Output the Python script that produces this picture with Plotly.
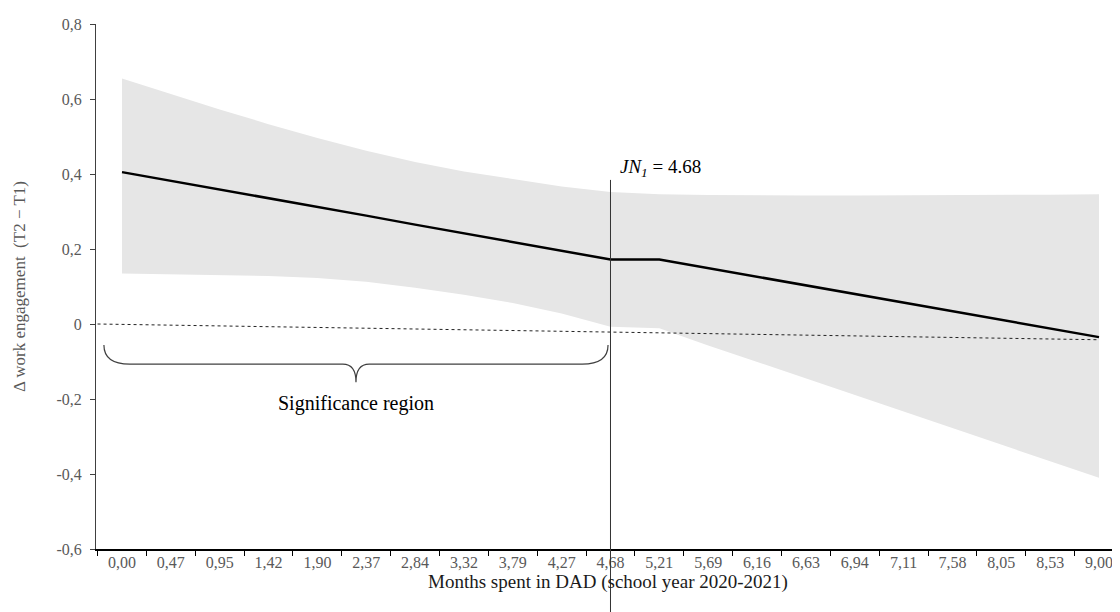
import plotly.graph_objects as go

# ---- data ----
x_labels = ["0,00", "0,47", "0,95", "1,42", "1,90", "2,37", "2,84", "3,32", "3,79", "4,27",
            "4,68", "5,21", "5,69", "6,16", "6,63", "6,94", "7,11", "7,58", "8,05", "8,53", "9,00"]
effect = [0.405, 0.382, 0.358, 0.335, 0.312, 0.289, 0.265, 0.242, 0.219, 0.195, 0.172,
          0.172, 0.149, 0.126, 0.103, 0.080, 0.057, 0.034, 0.011, -0.012, -0.035]
upper_ci = [0.655, 0.613, 0.572, 0.533, 0.496, 0.462, 0.432, 0.407, 0.386, 0.367, 0.352,
            0.346, 0.344, 0.343, 0.343, 0.343, 0.343, 0.344, 0.344, 0.345, 0.346]
lower_ci = [0.135, 0.133, 0.131, 0.128, 0.123, 0.113, 0.097, 0.078, 0.056, 0.028, -0.007,
            -0.011, -0.057, -0.101, -0.145, -0.189, -0.233, -0.278, -0.322, -0.366, -0.41]
zero_ref_x = [-0.5, 20]
zero_ref_y = [0.0, -0.042]
y_ticks = [-0.6, -0.4, -0.2, 0, 0.2, 0.4, 0.6, 0.8]
y_ticktext = ["-0,6", "-0,4", "-0,2", "0", "0,2", "0,4", "0,6", "0,8"]
jn_index = 10          # position of JN1 = 4.68 among categories
brace_mid = 4.79

x_idx = list(range(len(x_labels)))
FONT = "Liberation Serif, DejaVu Serif, Times, serif"
GRAY = "#595959"

fig = go.Figure()
fig.add_trace(go.Scatter(x=x_idx, y=lower_ci, mode="lines", line=dict(width=0),
                         hoverinfo="skip", showlegend=False))
fig.add_trace(go.Scatter(x=x_idx, y=upper_ci, mode="lines", line=dict(width=0),
                         fill="tonexty", fillcolor="#e6e6e6", hoverinfo="skip", showlegend=False))
fig.add_trace(go.Scatter(x=zero_ref_x, y=zero_ref_y, mode="lines",
                         line=dict(color="#222222", width=1, dash="dot"), showlegend=False))
fig.add_trace(go.Scatter(x=x_idx, y=effect, mode="lines",
                         line=dict(color="black", width=2.5), showlegend=False))

# JN vertical line
fig.add_shape(type="line", xref="x", yref="paper", x0=jn_index, x1=jn_index,
              y0=-0.125, y1=0.703, line=dict(color="#333333", width=1))

# brace
x0b, x1b = -0.37, 9.95
yt, yh, ytip = -0.056, -0.107, -0.155
cw, mw = 0.53, 0.27
path = (f"M {x0b},{yt} Q {x0b},{yh} {x0b+cw},{yh} L {brace_mid-mw},{yh} "
        f"Q {brace_mid},{yh} {brace_mid},{ytip} Q {brace_mid},{yh} {brace_mid+mw},{yh} "
        f"L {x1b-cw},{yh} Q {x1b},{yh} {x1b},{yt}")
fig.add_shape(type="path", xref="x", yref="y", path=path,
              line=dict(color="#404040", width=1.2))

fig.add_annotation(x=brace_mid, y=-0.211, text="Significance region", showarrow=False,
                   font=dict(family=FONT, size=20, color="black"))
fig.add_annotation(x=10.15, y=0.416, text="<i>JN</i><sub><i>1</i></sub> = 4.68", showarrow=False,
                   xanchor="left", font=dict(family=FONT, size=19, color="black"))

fig.update_layout(
    width=1112, height=604,
    margin=dict(l=88, r=0, t=16, b=63, autoexpand=False),
    plot_bgcolor="white", paper_bgcolor="white",
    font=dict(family=FONT, size=16, color=GRAY),
    xaxis=dict(range=[-0.532, 20.43], tickmode="array", tickvals=x_idx, ticktext=x_labels,
               ticks="", showgrid=False, zeroline=False, showline=True, linecolor="black",
               linewidth=1.5, tickfont=dict(family=FONT, size=16, color=GRAY), automargin=False,
               ticklabelstandoff=-2,
               minor=dict(ticks="outside", ticklen=5, tickcolor="black", tick0=-0.5, dtick=1,
                          showgrid=False),
               title=dict(text="Months spent in DAD (school year 2020-2021)",
                          font=dict(family=FONT, size=19, color="#1a1a1a"), standoff=2)),
    yaxis=dict(range=[-0.6, 0.8], tickmode="array", tickvals=y_ticks, ticktext=y_ticktext,
               ticks="outside", ticklen=5, tickcolor="#404040", showgrid=False, zeroline=False,
               showline=True, linecolor="#404040", linewidth=1, automargin=False,
               ticklabelstandoff=5,
               tickfont=dict(family=FONT, size=16, color=GRAY),
               title=dict(text="Δ work engagement  (T2 − T1)",
                          font=dict(family=FONT, size=17, color=GRAY), standoff=26)),
)

fig.write_html("out.html")
